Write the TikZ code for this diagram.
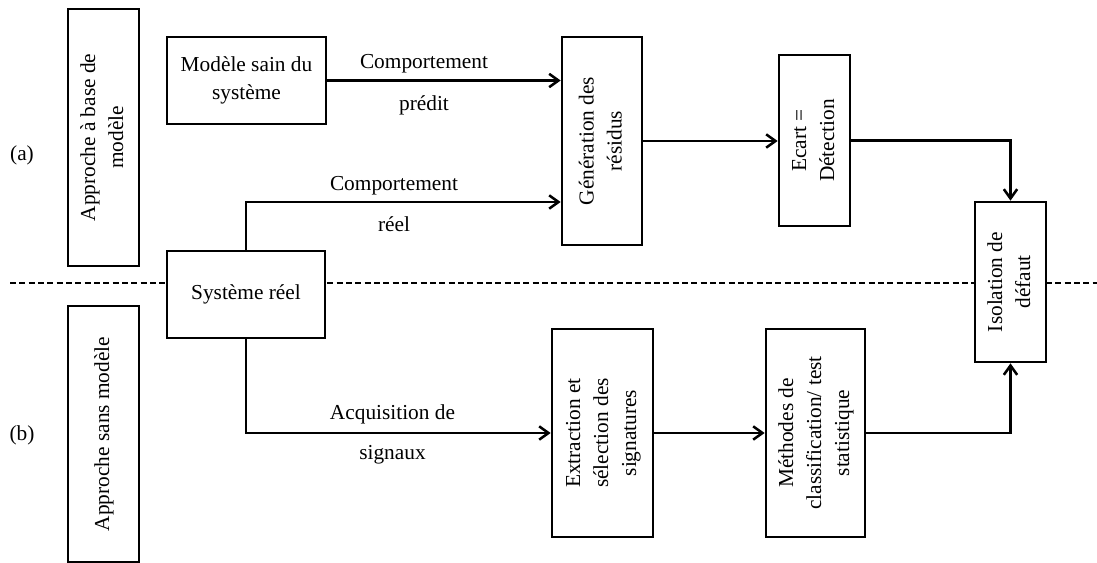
\documentclass[tikz,border=0pt]{standalone}
\usepackage{fontspec}
\usepackage{graphicx}
\setmainfont{Liberation Serif}
\usetikzlibrary{arrows.meta}
\newcommand{\vlabel}[1]{\rotatebox{90}{\begin{tabular}{@{}c@{}}#1\end{tabular}}}
\begin{document}
\begin{tikzpicture}[x=0.75pt, y=-0.75pt,
  font=\fontsize{16}{21}\selectfont,
  box/.style={draw, line width=2pt, fill=white, inner sep=0pt, align=center},
  arr/.style={line width=1.9pt, -{Straight Barb[length=7pt,width=10pt,line width=1.9pt]}},
  lbl/.style={inner sep=0pt, anchor=base}]
\useasboundingbox (0,0) rectangle (1097,563);
\coordinate (sepL) at (10,283);
\coordinate (sepR) at (1097,283);
\draw[dashed, line width=1pt, dash pattern=on 4.5pt off 2.5pt](sepL) -- (sepR);
\node[inner sep=0pt] (tagA) at (22,155){(a)};
\node[inner sep=0pt] (tagB) at (22,435){(b)};
\node[box, minimum width=53.25pt, minimum height=192.75pt] (appA) at (103.5,137.5){\vlabel{Approche à base de\\modèle}};
\node[box, minimum width=53.25pt, minimum height=192pt] (appB) at (103.5,434){\vlabel{Approche sans modèle}};
\node[box, minimum width=119.25pt, minimum height=65.25pt] (modele) at (246.5,80.5){Modèle sain du\\système};
\node[box, minimum width=118.5pt, minimum height=65.25pt] (systeme) at (246,294.5){Système réel};
\node[box, minimum width=60pt, minimum height=156pt] (residus) at (602,141){\vlabel{Génération des\\résidus}};
\node[box, minimum width=53.25pt, minimum height=128.25pt] (ecart) at (814.5,140.5){\vlabel{Ecart =\\Détection}};
\node[box, minimum width=53.25pt, minimum height=120pt] (isolation) at (1010.5,282){\vlabel{Isolation de\\défaut}};
\node[box, minimum width=75.75pt, minimum height=156pt] (extraction) at (602.5,433){\vlabel{Extraction et\\sélection des\\signatures}};
\node[box, minimum width=74.25pt, minimum height=156pt] (methodes) at (815.5,433){\vlabel{Méthodes de\\classification/ test\\statistique}};
\node[lbl] (cmpA) at (424,69){Comportement};
\node[lbl] (predit) at (424,110.5){prédit};
\node[lbl] (cmpB) at (394,190.5){Comportement};
\node[lbl] (reel) at (394,231.5){réel};
\node[lbl] (acq) at (392.5,419){Acquisition de};
\node[lbl] (signaux) at (392.5,459){signaux};
\draw[arr](modele.east) -- (modele.east -| residus.west);
\draw[arr](systeme.north) |- ([yshift=-45.75pt]residus.west);
\draw[arr](residus.east) -- (residus.east -| ecart.west);
\draw[arr](ecart.east) -| (isolation.north);
\draw[arr](systeme.south) |- (extraction.west);
\draw[arr](extraction.east) -- (methodes.west);
\draw[arr](methodes.east) -| (isolation.south);
\end{tikzpicture}
\end{document}
